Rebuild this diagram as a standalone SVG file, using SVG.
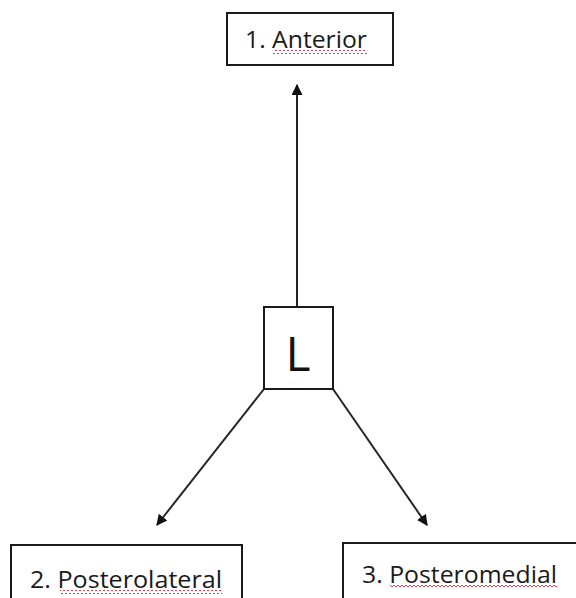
<svg xmlns="http://www.w3.org/2000/svg" width="576" height="598" viewBox="0 0 576 598">
<style>
.box{fill:#fff;stroke:#1a1a1a;stroke-width:2}
.lbl{font-family:"Open Sans","Liberation Sans",sans-serif;font-size:24px;fill:#1a1a1a}
.edge{stroke:#262626;stroke-width:2;fill:none;marker-end:url(#ah)}
</style>
<defs>
<marker id="ah" viewBox="0 0 10 10" refX="9" refY="5" markerWidth="5.5" markerHeight="5.5" orient="auto" markerUnits="strokeWidth">
<path d="M0,0 L10,5 L0,10 z" fill="#111"/>
</marker>
<pattern id="wave" width="4" height="4" patternUnits="userSpaceOnUse"><path d="M0,3 L2,1 L4,3" stroke="#d04050" stroke-width="1" fill="none"/></pattern>
</defs>
<rect width="576" height="598" fill="#fff"/>
<g id="connectors">
<line class="edge" x1="297" y1="307" x2="297" y2="85"/>
<line class="edge" x1="264" y1="389" x2="157" y2="525"/>
<line class="edge" x1="333" y1="389" x2="427" y2="525"/>
</g>
<g id="node-anterior">
<rect class="box" x="227" y="13" width="166" height="52"/>
<text class="lbl" x="245" y="48" textLength="122" lengthAdjust="spacingAndGlyphs">1. Anterior</text>
<rect x="273" y="50" width="94" height="4" fill="url(#wave)"/>
</g>
<g id="node-L">
<rect class="box" x="264" y="307" width="69" height="82"/>
<text x="298" y="371" text-anchor="middle" font-family="Open Sans,Liberation Sans,sans-serif" font-size="48" fill="#111">L</text>
</g>
<g id="node-posterolateral">
<rect class="box" x="11" y="545" width="231" height="60"/>
<text class="lbl" x="30" y="588" textLength="192" lengthAdjust="spacingAndGlyphs">2. Posterolateral</text>
<rect x="60" y="590" width="162" height="4" fill="url(#wave)"/>
</g>
<g id="node-posteromedial">
<rect class="box" x="343" y="543" width="240" height="62"/>
<text class="lbl" x="362" y="583" textLength="195" lengthAdjust="spacingAndGlyphs">3. Posteromedial</text>
<rect x="390" y="585" width="167" height="4" fill="url(#wave)"/>
</g>
</svg>
